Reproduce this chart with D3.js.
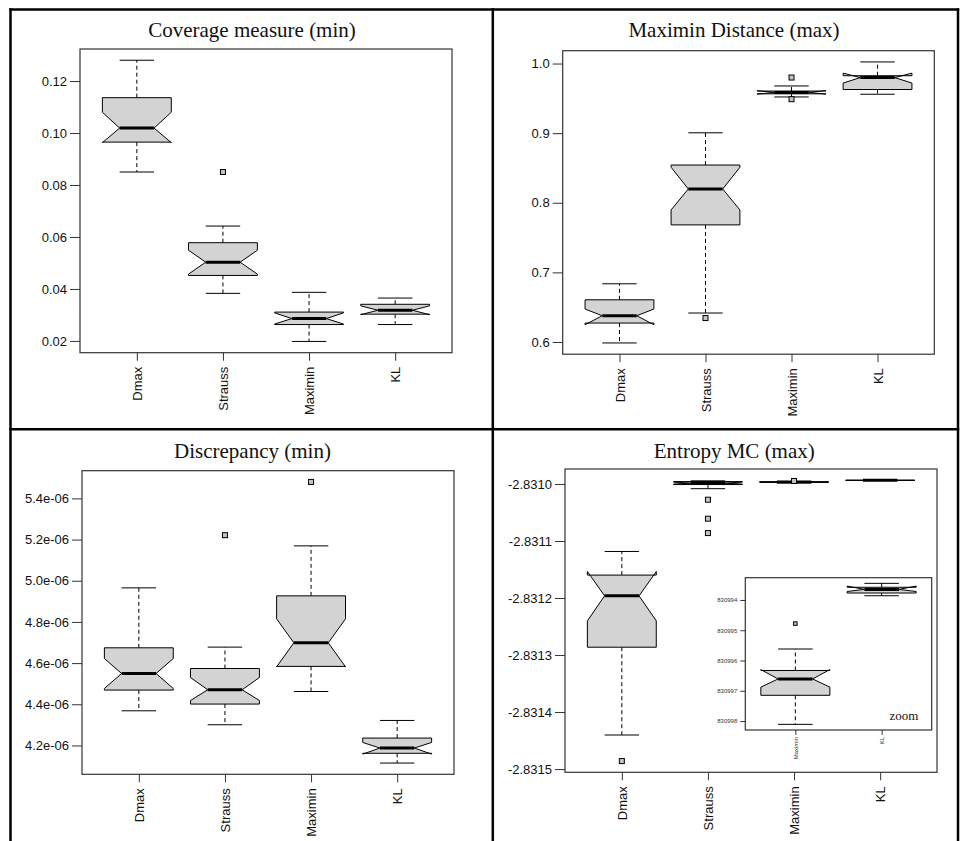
<!DOCTYPE html>
<html>
<head>
<meta charset="utf-8">
<script src="https://cdn.jsdelivr.net/npm/d3@7"></script>
<style>
  html, body { margin: 0; padding: 0; background: #fff; }
  svg { display: block; }
</style>
</head>
<body>
<svg id="chart" width="962" height="841"></svg>
<script>
// ---------------- DATA ----------------
const categories = ["Dmax", "Strauss", "Maximin", "KL"];

// stats per box: [lower whisker, Q1, median, Q3, upper whisker]
const coverageStats = [
  [0.0850, 0.0965, 0.1019, 0.1136, 0.1280],
  [0.0383, 0.0452, 0.0503, 0.0578, 0.0642],
  [0.0198, 0.0263, 0.0286, 0.0311, 0.0387],
  [0.0263, 0.0303, 0.0318, 0.0341, 0.0365]
];
const coverageNotch = [[0.0963, 0.1080], [0.0457, 0.0549], [0.0265, 0.0308], [0.0301, 0.0335]];
const coverageOutliers = [[], [0.0850], [], []];
const coverageTicks = [0.02, 0.04, 0.06, 0.08, 0.10, 0.12];
const coverageTickLabels = ["0.02", "0.04", "0.06", "0.08", "0.10", "0.12"];

const maximinStats = [
  [0.5986, 0.6272, 0.6377, 0.6606, 0.6836],
  [0.6416, 0.7682, 0.8198, 0.8542, 0.9005],
  [0.9520, 0.9565, 0.9585, 0.9605, 0.9678],
  [0.9559, 0.9627, 0.9798, 0.9825, 1.0023]
];
const maximinNotch = [[0.6248, 0.6473], [0.7897, 0.8510], [0.9560, 0.9610], [0.9720, 0.9862]];
const maximinOutliers = [[], [0.6344], [0.9488, 0.9799], []];
const maximinTicks = [0.6, 0.7, 0.8, 0.9, 1.0];
const maximinTickLabels = ["0.6", "0.7", "0.8", "0.9", "1.0"];

const discrepancyStats = [
  [4.3684e-6, 4.4690e-6, 4.5495e-6, 4.6743e-6, 4.9655e-6],
  [4.3005e-6, 4.4010e-6, 4.4704e-6, 4.5738e-6, 4.6777e-6],
  [4.4621e-6, 4.5840e-6, 4.6985e-6, 4.9267e-6, 5.1694e-6],
  [4.1145e-6, 4.1620e-6, 4.1874e-6, 4.2359e-6, 4.3214e-6]
];
const discrepancyNotch = [[4.4767e-6, 4.6223e-6], [4.4184e-6, 4.5300e-6], [4.5820e-6, 4.8150e-6], [4.1580e-6, 4.2146e-6]];
const discrepancyOutliers = [[], [5.2214e-6], [5.4800e-6], []];
const discrepancyTicks = [4.2e-6, 4.4e-6, 4.6e-6, 4.8e-6, 5.0e-6, 5.2e-6, 5.4e-6];
const discrepancyTickLabels = ["4.2e-06", "4.4e-06", "4.6e-06", "4.8e-06", "5.0e-06", "5.2e-06", "5.4e-06"];

const entropyStats = [
  [-2.8314403, -2.8312863, -2.8311962, -2.8311598, -2.8311184],
  [-2.8310083, -2.8310010, -2.8309985, -2.8309958, -2.8309945],
  [-2.83099811, -2.83099715, -2.83099661, -2.83099633, -2.83099562],
  [-2.83099386, -2.83099377, -2.83099365, -2.83099358, -2.83099345]
];
const entropyNotch = [[-2.8312401, -2.8311535], [-2.8310002, -2.8309968], [-2.83099688, -2.83099630], [-2.83099372, -2.83099354]];
const entropyOutliers = [[-2.8314860], [-2.8310276, -2.8310609, -2.8310861], [-2.83099478], []];
const entropyTicks = [-2.8315, -2.8314, -2.8313, -2.8312, -2.8311, -2.8310];
const entropyTickLabels = ["-2.8315", "-2.8314", "-2.8313", "-2.8312", "-2.8311", "-2.8310"];

// inset (zoom) of the last two methods
const insetCategories = ["Maximin", "KL"];
const insetTicks = [-2.830998, -2.830997, -2.830996, -2.830995, -2.830994];
const insetTickLabels = ["830998", "830997", "830996", "830995", "830994"];
const insetLabel = "zoom";

const titles = ["Coverage measure (min)", "Maximin Distance (max)", "Discrepancy (min)", "Entropy MC (max)"];

// ---------------- LAYOUT ----------------
const svg = d3.select("#chart");
svg.append("rect").attr("width", 962).attr("height", 841).attr("fill", "#fff");

const SANS = "'Liberation Sans', Arial, Helvetica, sans-serif";
const SERIF = "'Liberation Serif', 'Times New Roman', serif";

function drawBoxplot(g, opt) {
  const { stats, notch, outliers, cats, ticks, tickLabels,
          left, right, top, bottom, fontSize, yTick, yPad, xTick, xOff,
          outSize, labelColor } = opt;
  const n = cats.length;
  const all = stats.flat().concat(outliers.flat());
  const lo = d3.min(all), hi = d3.max(all), pad = (hi - lo) * 0.04;
  const y = d3.scaleLinear().domain([lo - pad, hi + pad]).range([bottom, top]);
  const x = d3.scaleLinear().domain([0.5 - 0.04 * n, n + 0.5 + 0.04 * n]).range([left, right]);
  const wid = x(1.4) - x(1);

  // background
  g.append("rect").attr("x", left).attr("y", top).attr("width", right - left).attr("height", bottom - top)
    .attr("fill", "#fff");

  const boxes = g.selectAll("g.box").data(stats).join("g").attr("class", "box");
  boxes.each(function (s, i) {
    const b = d3.select(this);
    const cx = x(i + 1);
    const c = notch[i];
    // whiskers
    b.append("line").attr("x1", cx).attr("x2", cx).attr("y1", y(s[3])).attr("y2", y(s[4]))
      .attr("stroke", "#000").attr("stroke-width", 1).attr("stroke-dasharray", "4,3");
    b.append("line").attr("x1", cx).attr("x2", cx).attr("y1", y(s[1])).attr("y2", y(s[0]))
      .attr("stroke", "#000").attr("stroke-width", 1).attr("stroke-dasharray", "4,3");
    // staples
    [s[0], s[4]].forEach(v => {
      b.append("line").attr("x1", cx - wid * 0.5).attr("x2", cx + wid * 0.5).attr("y1", y(v)).attr("y2", y(v))
        .attr("stroke", "#000").attr("stroke-width", 1);
    });
    // notched box polygon (R bxp order)
    const fx = [-1, 1, 1, 0.5, 1, 1, -1, -1, -0.5, -1];
    const fy = [s[1], s[1], c[0], s[2], c[1], s[3], s[3], c[1], s[2], c[0]];
    const pts = fx.map((f, k) => [cx + wid * f, y(fy[k])]);
    b.append("polygon").attr("points", pts.map(p => p.join(",")).join(" "))
      .attr("fill", "#d3d3d3").attr("stroke", "#000").attr("stroke-width", 1).attr("stroke-linejoin", "miter");
    // median
    b.append("line").attr("x1", cx - wid * 0.5).attr("x2", cx + wid * 0.5).attr("y1", y(s[2])).attr("y2", y(s[2]))
      .attr("stroke", "#000").attr("stroke-width", 3);
    // outliers
    b.selectAll("rect.out").data(outliers[i]).join("rect").attr("class", "out")
      .attr("x", cx - outSize / 2).attr("y", d => y(d) - outSize / 2)
      .attr("width", outSize).attr("height", outSize)
      .attr("fill", "#c4c4c4").attr("stroke", "#000").attr("stroke-width", 1);
  });

  // frame
  g.append("rect").attr("x", left).attr("y", top).attr("width", right - left).attr("height", bottom - top)
    .attr("fill", "none").attr("stroke", "#333").attr("stroke-width", 1.2);

  // y axis
  const ya = g.append("g").attr("transform", `translate(${left},0)`)
    .call(d3.axisLeft(y).tickValues(ticks).tickFormat((d, i) => tickLabels[i]).tickSize(yTick).tickPadding(yPad));
  ya.select(".domain").remove();
  ya.selectAll("line").attr("stroke", "#333");
  ya.selectAll("text").attr("font-family", SANS).attr("font-size", fontSize).attr("fill", labelColor);

  // x axis
  const xa = g.append("g").attr("transform", `translate(0,${bottom})`)
    .call(d3.axisBottom(x).tickValues(d3.range(1, n + 1)).tickFormat(d => cats[d - 1]).tickSize(xTick));
  xa.select(".domain").remove();
  xa.selectAll("line").attr("stroke", "#333");
  xa.selectAll("text")
    .attr("font-family", SANS).attr("font-size", fontSize).attr("fill", labelColor)
    .attr("transform", "rotate(-90)").attr("text-anchor", "end")
    .attr("x", -xOff).attr("y", 0).attr("dy", "0.35em");
  return { x, y };
}

const panels = [
  { title: titles[0], tx: 252, ty: 37, stats: coverageStats, notch: coverageNotch, outliers: coverageOutliers,
    ticks: coverageTicks, tickLabels: coverageTickLabels, left: 80, right: 452, top: 49, bottom: 352.7 },
  { title: titles[1], tx: 734, ty: 37, stats: maximinStats, notch: maximinNotch, outliers: maximinOutliers,
    ticks: maximinTicks, tickLabels: maximinTickLabels, left: 562.7, right: 934.3, top: 50.7, bottom: 354.2 },
  { title: titles[2], tx: 252.5, ty: 458, stats: discrepancyStats, notch: discrepancyNotch, outliers: discrepancyOutliers,
    ticks: discrepancyTicks, tickLabels: discrepancyTickLabels, left: 82, right: 454, top: 470.7, bottom: 774.3 },
  { title: titles[3], tx: 734.3, ty: 458, stats: entropyStats, notch: entropyNotch, outliers: entropyOutliers,
    ticks: entropyTicks, tickLabels: entropyTickLabels, left: 565, right: 937, top: 469, bottom: 772.3 }
];

panels.forEach(p => {
  const g = svg.append("g");
  g.append("text").attr("x", p.tx).attr("y", p.ty).attr("text-anchor", "middle")
    .attr("font-family", SERIF).attr("font-size", 21).attr("fill", "#111").text(p.title);
  drawBoxplot(g, Object.assign({ cats: categories, fontSize: 13, yTick: 10, yPad: 3, xTick: 8, xOff: 14,
    outSize: 5, labelColor: "#111" }, p));
});

// inset in entropy panel
{
  const g = svg.append("g");
  const idx = [2, 3];
  drawBoxplot(g, {
    stats: idx.map(i => entropyStats[i]), notch: idx.map(i => entropyNotch[i]),
    outliers: idx.map(i => entropyOutliers[i]), cats: insetCategories,
    ticks: insetTicks, tickLabels: insetTickLabels,
    left: 745.3, right: 931.7, top: 577.7, bottom: 730,
    fontSize: 6, yTick: 5, yPad: 3, xTick: 5, xOff: 7, outSize: 3.5, labelColor: "#333"
  });
  g.append("text").attr("x", 904).attr("y", 720).attr("text-anchor", "middle")
    .attr("font-family", SERIF).attr("font-size", 13).attr("fill", "#111").text(insetLabel);
}

// table borders
const border = svg.append("g").attr("stroke", "#000").attr("stroke-width", 2.5);
border.append("line").attr("x1", 10.5).attr("x2", 10.5).attr("y1", 8.3).attr("y2", 841);
border.append("line").attr("x1", 492.8).attr("x2", 492.8).attr("y1", 8.3).attr("y2", 841);
border.append("line").attr("x1", 958).attr("x2", 958).attr("y1", 8.3).attr("y2", 841);
border.append("line").attr("x1", 9.3).attr("x2", 959.2).attr("y1", 9.5).attr("y2", 9.5);
border.append("line").attr("x1", 9.3).attr("x2", 959.2).attr("y1", 429.2).attr("y2", 429.2);
</script>
</body>
</html>
